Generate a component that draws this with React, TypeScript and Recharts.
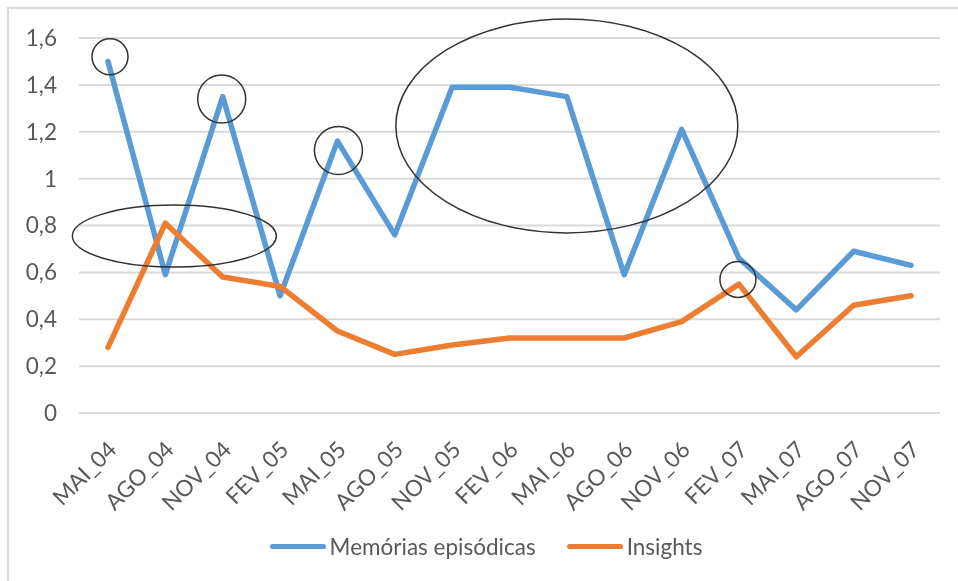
import React from "react";
import { LineChart, Line, XAxis, YAxis, CartesianGrid, Legend, ReferenceDot } from "recharts";

const categories = [
  "MAI_04", "AGO_04", "NOV_04", "FEV_05", "MAI_05", "AGO_05", "NOV_05", "FEV_06",
  "MAI_06", "AGO_06", "NOV_06", "FEV_07", "MAI_07", "AGO_07", "NOV_07",
];
const memorias = [1.5, 0.59, 1.35, 0.5, 1.16, 0.76, 1.39, 1.39, 1.35, 0.59, 1.21, 0.66, 0.44, 0.69, 0.63];
const insights = [0.28, 0.81, 0.58, 0.54, 0.35, 0.25, 0.29, 0.32, 0.32, 0.32, 0.39, 0.55, 0.24, 0.46, 0.5];
const yTicks = [0, 0.2, 0.4, 0.6, 0.8, 1, 1.2, 1.4, 1.6];
const seriesNames = ["Memórias episódicas", "Insights"];

// hand-drawn ellipses on the original, anchored to a category/value
const annotations = [
  { x: "MAI_04", y: 1.52, rx: 18, ry: 18, dx: 2 },
  { x: "NOV_04", y: 1.34, rx: 24, ry: 24, dx: -1 },
  { x: "MAI_05", y: 1.12, rx: 24, ry: 24, dx: 1 },
  { x: "MAI_06", y: 1.225, rx: 171, ry: 107, dx: 0 },
  { x: "AGO_04", y: 0.755, rx: 102, ry: 31, dx: 9 },
  { x: "FEV_07", y: 0.57, rx: 18, ry: 18, dx: -1 },
];

const data = categories.map((c, i) => ({
  name: c,
  memorias: memorias[i],
  insights: insights[i],
}));

const FONT = "Lato, 'Noto Sans', sans-serif";
const TEXT = "#595959";
const GRID = "#d9d9d9";

const XTick = (props: any) => {
  const { x, y, payload } = props;
  return (
    <text
      transform={`translate(${x + 10},${y + 36}) rotate(-45)`}
      textAnchor="end"
      fill={TEXT}
      fontSize={22.5}
      fontFamily={FONT}
    >
      {payload.value}
    </text>
  );
};

const LegendContent = (props: any) => {
  // keep the series order (recharts sorts legend items by name)
  const items = [...(props.payload || [])].sort(
    (a: any, b: any) => seriesNames.indexOf(a.value) - seriesNames.indexOf(b.value)
  );
  return (
    <div
      style={{
        display: "flex",
        justifyContent: "center",
        alignItems: "center",
        height: 30,
        paddingLeft: 24,
        fontFamily: FONT,
        fontSize: 22.5,
        color: TEXT,
      }}
    >
      {items.map((it: any, i: number) => (
        <div key={i} style={{ display: "flex", alignItems: "center", marginRight: i === 0 ? 31 : 0 }}>
          <span
            style={{
              display: "inline-block",
              width: 56,
              height: 5,
              borderRadius: 3,
              background: it.color,
              marginRight: 4,
            }}
          />
          <span>{it.value}</span>
        </div>
      ))}
    </div>
  );
};

export default function App() {
  return (
    <div style={{ width: 942, height: 565, position: "relative" }}>
      <div
        style={{
          position: "fixed",
          top: 7,
          left: 7,
          right: 0,
          bottom: 0,
          borderTop: `2px solid ${GRID}`,
          borderLeft: `2px solid ${GRID}`,
          pointerEvents: "none",
        }}
      />
      <LineChart width={942} height={565} data={data} margin={{ top: 30, right: 10, bottom: 40, left: 0 }}>
        <CartesianGrid vertical={false} stroke={GRID} strokeWidth={2} />
        <XAxis
          dataKey="name"
          interval={0}
          padding={{ left: 29, right: 29 }}
          axisLine={{ stroke: GRID, strokeWidth: 2 }}
          tickLine={false}
          tickSize={0}
          height={90}
          tick={<XTick />}
        />
        <YAxis
          domain={[0, 1.6]}
          ticks={yTicks}
          width={71}
          axisLine={false}
          tickLine={false}
          tickSize={0}
          tickMargin={22}
          tickFormatter={(v: number) => String(v).replace(".", ",")}
          tick={{ fill: TEXT, fontSize: 22.5, fontFamily: FONT }}
        />
        <Legend
          verticalAlign="bottom"
          height={30}
          wrapperStyle={{ bottom: 12 }}
          content={<LegendContent />}
        />
        <Line
          type="linear"
          dataKey="memorias"
          name={seriesNames[0]}
          stroke="#5B9BD5"
          strokeWidth={5.5}
          strokeLinejoin="round"
          strokeLinecap="round"
          dot={false}
          activeDot={false}
          isAnimationActive={false}
        />
        <Line
          type="linear"
          dataKey="insights"
          name={seriesNames[1]}
          stroke="#ED7D31"
          strokeWidth={5.5}
          strokeLinejoin="round"
          strokeLinecap="round"
          dot={false}
          activeDot={false}
          isAnimationActive={false}
        />
        {annotations.map((a, i) => (
          <ReferenceDot
            key={i}
            x={a.x}
            y={a.y}
            r={a.rx}
            shape={(p: any) => (
              <ellipse
                cx={p.cx + a.dx}
                cy={p.cy}
                rx={a.rx}
                ry={a.ry}
                fill="none"
                stroke="#333"
                strokeWidth={1.5}
              />
            )}
          />
        ))}
      </LineChart>
    </div>
  );
}
